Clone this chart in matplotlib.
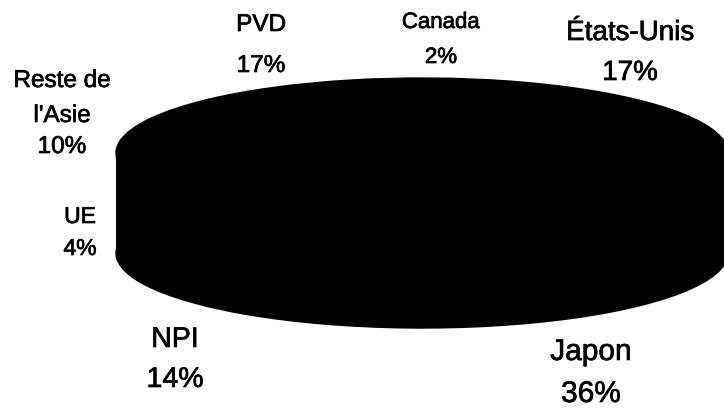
import matplotlib.pyplot as plt
import matplotlib.patheffects as pe

# export shares by destination (%)
regions = ["Japon", "États-Unis", "Canada", "PVD", "Reste de\nl'Asie", "UE", "NPI"]
shares = [36, 17, 2, 17, 10, 4, 14]

# label placement in pixels (x centre, baselines of name lines, baseline of the %)
label_x = [591, 630, 441, 261, 62, 80, 175]
name_base = [[360], [40], [28], [31], [87, 122], [223], [347]]
pct_base = [402, 80, 63, 72, 153, 255, 387]
label_size = [21.5, 20, 16, 17.5, 17.5, 16.5, 20.5]

W, H = 724, 411
cx, cy = 422, 153      # centre of the top face, px
a, b = 306, 75         # half axes of the top face, px
depth = 100            # thickness of the disc, px

fig = plt.figure(figsize=(W / 100, H / 100), dpi=100)
ax = fig.add_axes([0, 0, 1, 1])

kw = dict(startangle=-125, counterclock=True, colors=["black"] * len(shares),
          wedgeprops=dict(edgecolor="black", linewidth=1))

# bottom face, side band, top face
ax.pie(shares, center=(0, -depth / b), **kw)
ax.fill_between([-1, 1], -depth / b, 0, color="black", linewidth=0)
ax.pie(shares, center=(0, 0), **kw)

ax.set_aspect("auto")
ax.set_xlim(-cx / a, (W - cx) / a)
ax.set_ylim((cy - H) / b, cy / b)
ax.axis("off")

bold = [pe.withStroke(linewidth=0.5, foreground="black")]
for name, val, x, nb, pb, fs in zip(regions, shares, label_x, name_base, pct_base, label_size):
    for line, y in zip(name.split("\n"), nb):
        fig.text(x / W, 1 - y / H, line, ha="center", va="baseline",
                 fontsize=fs, family="Liberation Sans", path_effects=bold)
    fig.text(x / W, 1 - pb / H, "%d%%" % val, ha="center", va="baseline",
             fontsize=fs, family="Liberation Sans", path_effects=bold)

fig.savefig("out.png", dpi=100, facecolor="white")
